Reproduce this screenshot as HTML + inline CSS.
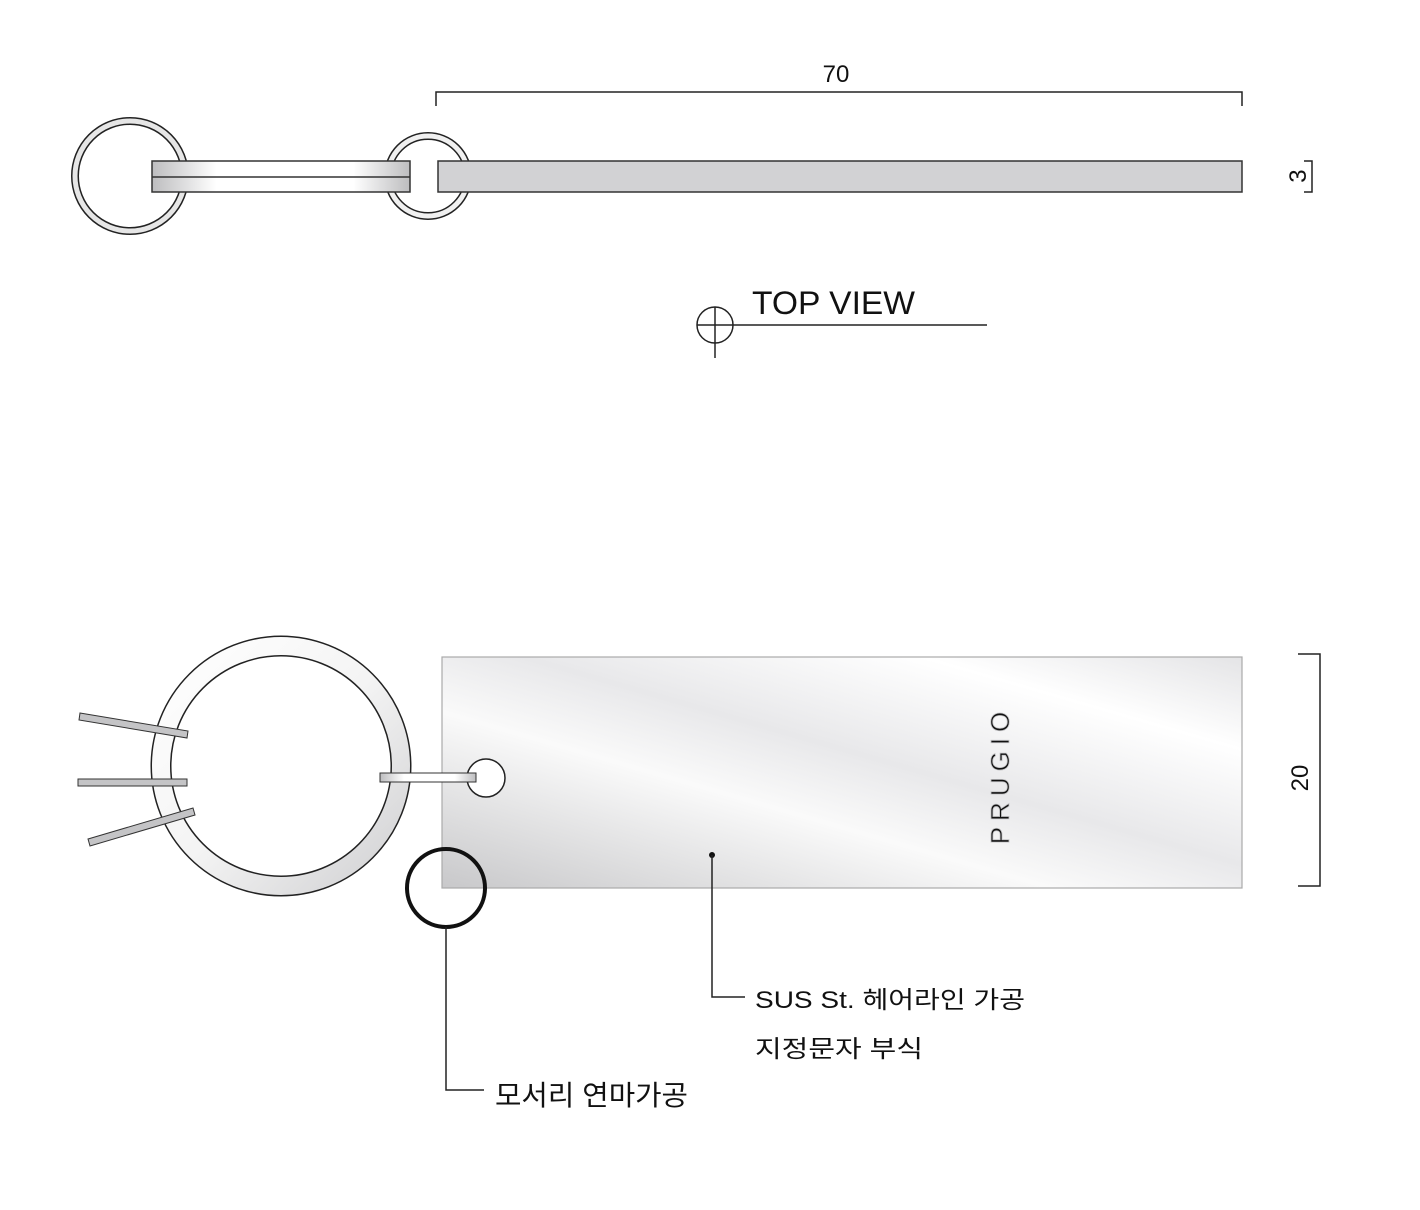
<!DOCTYPE html>
<html><head><meta charset="utf-8"><style>
html,body{margin:0;padding:0;background:#fff;}
svg{display:block;}
text{font-family:"Liberation Sans","Noto Sans CJK KR",sans-serif;fill:#111;}
</style></head><body>
<svg width="1420" height="1210" viewBox="0 0 1420 1210" xmlns="http://www.w3.org/2000/svg">
<defs>
<linearGradient id="bar" x1="0" x2="1" y1="0" y2="0">
<stop offset="0" stop-color="#bdbdbf"/><stop offset="0.25" stop-color="#fff"/><stop offset="0.78" stop-color="#fff"/><stop offset="1" stop-color="#bdbdbf"/></linearGradient>
<linearGradient id="plate" x1="0" y1="1" x2="1" y2="0">
<stop offset="0" stop-color="#c8c8ca"/><stop offset="0.38" stop-color="#fafafa"/><stop offset="0.55" stop-color="#e8e8ea"/><stop offset="0.8" stop-color="#ffffff"/><stop offset="1" stop-color="#e4e4e6"/></linearGradient>
<linearGradient id="ring" x1="0" y1="0" x2="1" y2="1">
<stop offset="0" stop-color="#fff"/><stop offset="0.5" stop-color="#f4f4f4"/><stop offset="1" stop-color="#d0d0d2"/></linearGradient>
</defs>
<!-- TOP VIEW -->
<path d="M436 106 V92 H1242 V106" fill="none" stroke="#222" stroke-width="1.5"/>
<text x="836" y="82" font-size="24" text-anchor="middle">70</text>
<circle cx="130" cy="176" r="55" fill="none" stroke="#222" stroke-width="8"/>
<circle cx="130" cy="176" r="55" fill="none" stroke="#e6e6e6" stroke-width="5"/>
<circle cx="428" cy="176" r="40" fill="none" stroke="#222" stroke-width="8"/>
<circle cx="428" cy="176" r="40" fill="none" stroke="#f0f0f0" stroke-width="5"/>
<rect x="152" y="161" width="258" height="31" fill="url(#bar)" stroke="#333" stroke-width="1.5"/>
<line x1="152" y1="177" x2="410" y2="177" stroke="#333" stroke-width="1.5"/>
<rect x="438" y="161" width="804" height="31" fill="#d2d2d4" stroke="#333" stroke-width="1.5"/>
<path d="M1304 161 H1312 V192 H1304" fill="none" stroke="#222" stroke-width="1.5"/>
<text x="1298" y="176" font-size="24" text-anchor="middle" transform="rotate(-90 1298 176)" dy="8">3</text>
<circle cx="715" cy="325" r="18" fill="none" stroke="#222" stroke-width="1.5"/>
<line x1="697" y1="325" x2="987" y2="325" stroke="#222" stroke-width="1.5"/>
<line x1="715" y1="307" x2="715" y2="358" stroke="#222" stroke-width="1.5"/>
<text x="752" y="314" font-size="32" textLength="163" lengthAdjust="spacingAndGlyphs">TOP VIEW</text>
<!-- FRONT VIEW -->
<rect x="442" y="657" width="800" height="231" fill="url(#plate)" stroke="#aaa" stroke-width="1.2"/>
<text x="1000" y="775" font-size="26" font-family="Liberation Serif,serif" fill="#e4e4e6" stroke="#c4c4c6" stroke-width="0.8" text-anchor="middle" letter-spacing="6" transform="rotate(-90 1000 775)" dy="9">PRUGIO</text>
<circle cx="281" cy="766" r="120" fill="none" stroke="#222" stroke-width="21"/>
<circle cx="281" cy="766" r="120" fill="none" stroke="url(#ring)" stroke-width="18"/>
<rect x="78" y="779" width="109" height="7" fill="#c4c4c6" stroke="#333" stroke-width="1"/>
<polygon points="80,713 188,731 187,738 79,720" fill="#c4c4c6" stroke="#333" stroke-width="1"/>
<polygon points="88,839 193,808 195,815 90,846" fill="#c4c4c6" stroke="#333" stroke-width="1"/>
<circle cx="486" cy="778" r="19" fill="#fff" stroke="#222" stroke-width="1.5"/>
<rect x="380" y="773" width="96" height="9" fill="url(#bar)" stroke="#333" stroke-width="1"/>
<circle cx="446" cy="888" r="39" fill="none" stroke="#111" stroke-width="4"/>
<path d="M446 927 V1090 H484" fill="none" stroke="#222" stroke-width="1.5"/>
<text x="495" y="1105" font-size="28" textLength="193" lengthAdjust="spacingAndGlyphs">모서리 연마가공</text>
<circle cx="712" cy="855" r="3" fill="#111"/>
<path d="M712 855 V997 H745" fill="none" stroke="#222" stroke-width="1.5"/>
<text x="755" y="1008" font-size="24" textLength="270" lengthAdjust="spacingAndGlyphs">SUS St. 헤어라인 가공</text>
<text x="755" y="1057" font-size="24" textLength="168" lengthAdjust="spacingAndGlyphs">지정문자 부식</text>
<path d="M1298 654 H1320 V886 H1298" fill="none" stroke="#222" stroke-width="1.5"/>
<text x="1300" y="778" font-size="24" text-anchor="middle" transform="rotate(-90 1300 778)" dy="8">20</text>
</svg>
</body></html>
